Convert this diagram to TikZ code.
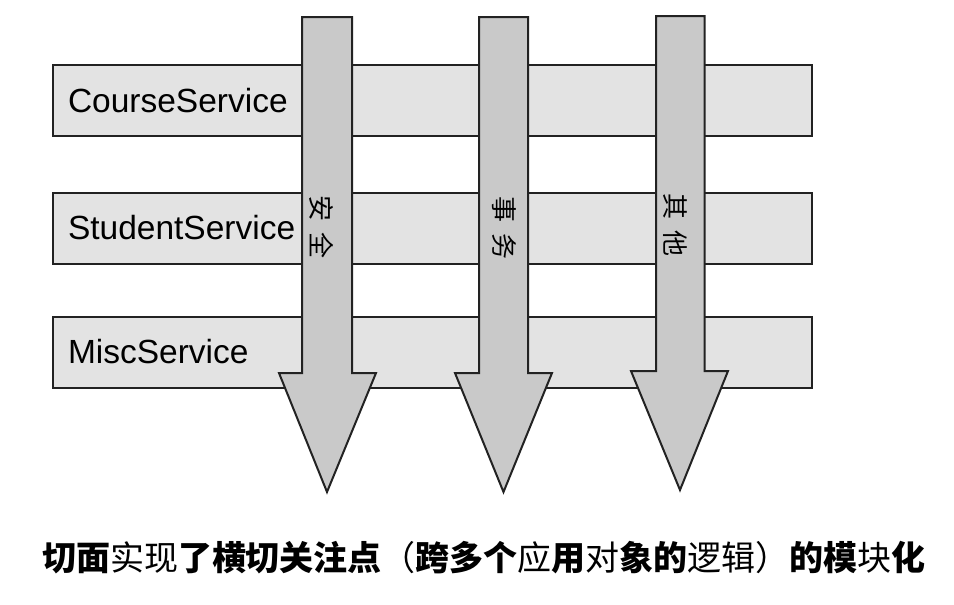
\documentclass[tikz,border=0pt]{standalone}
\usepackage{fontspec}
\setmainfont{Liberation Sans}
\newfontfamily\cjk{Noto Sans CJK SC}
\definecolor{svcfill}{HTML}{E3E3E3}
\definecolor{arrfill}{HTML}{C9C9C9}
\definecolor{edge}{HTML}{222222}
\begin{document}
\begin{tikzpicture}[x=1pt,y=-1pt,
  svc/.style={draw=edge, line width=2pt, fill=svcfill, rectangle,
    minimum width=759pt, minimum height=71pt, text width=729pt,
    align=left, inner xsep=15pt, inner ysep=0pt,
    font=\fontsize{33.5}{36}\selectfont, anchor=west},
  aspect/.style={draw=edge, line width=2pt, fill=arrfill, line join=miter},
  vlabel/.style={rotate=-90, inner sep=0pt, font=\cjk\fontsize{26}{28}\selectfont},
  caption/.style={inner sep=0pt, font=\cjk\fontsize{34}{36}\selectfont}]
\useasboundingbox (0,0) rectangle (954,605);
\node[svc] (course) at (52,100.5) {CourseService};
\node[svc] (student) at (52,228) {StudentService};
\node[svc] (misc) at (52,352) {MiscService};
% aspect arrows
\draw[aspect] (302,17) -- (352,17) -- (352,373) -- (376,373) -- (327,492) -- (279,373) -- (302,373) -- cycle;
\node[vlabel] (security) at (322,227) {安\hspace{12pt}全};
\draw[aspect] (479,17) -- (528,17) -- (528,373) -- (552,373) -- (503.5,492) -- (455,373) -- (479,373) -- cycle;
\node[vlabel] (transaction) at (504,228) {事\hspace{12pt}务};
\draw[aspect] (656,16) -- (704.5,16) -- (704.5,371) -- (728,371) -- (680,490) -- (631,371) -- (656,371) -- cycle;
\node[vlabel] (other) at (675,225) {其\hspace{12pt}他};
\node[caption] (cap) at (484,558) {\bfseries 切面\mdseries 实现\bfseries 了横切关注点\mdseries （\bfseries 跨多个\mdseries 应\bfseries 用\mdseries 对\bfseries 象的\mdseries 逻辑）\bfseries 的模\mdseries 块\bfseries 化};
\end{tikzpicture}
\end{document}
